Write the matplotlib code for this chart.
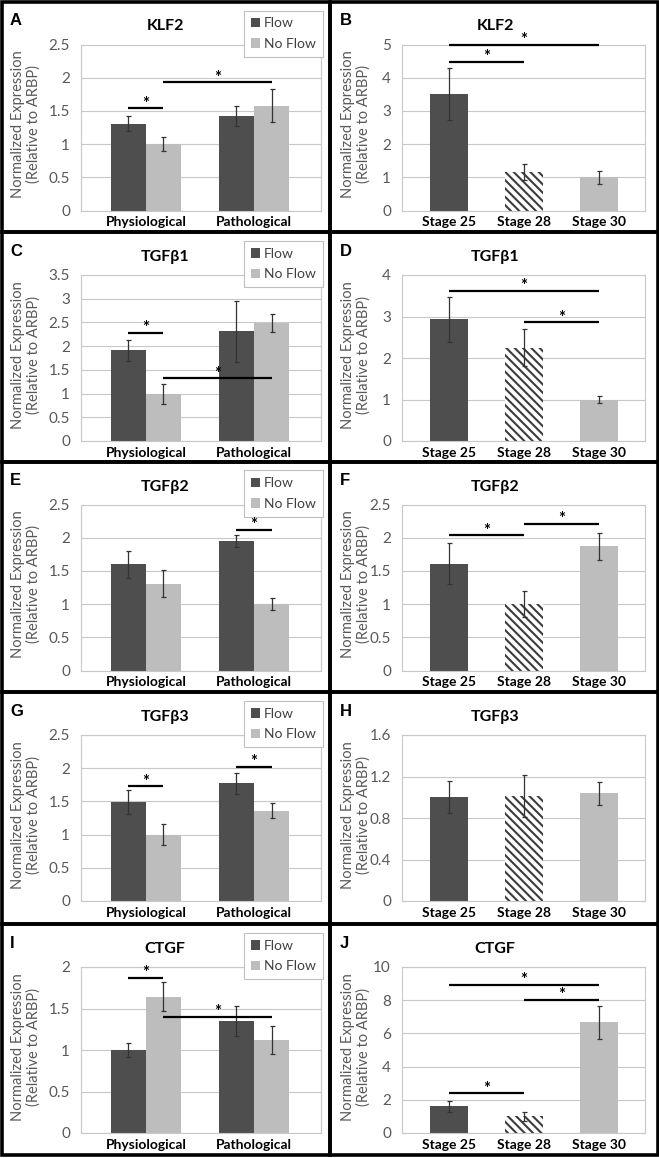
import matplotlib
matplotlib.use('Agg')
import matplotlib.pyplot as plt
from matplotlib.patches import Rectangle

plt.rcParams['font.family'] = ['Lato', 'DejaVu Sans']
plt.rcParams['hatch.linewidth'] = 1.5

# ---------------- data ----------------
conditions = ['Physiological', 'Pathological']
series_names = ['Flow', 'No Flow']
stages = ['Stage 25', 'Stage 28', 'Stage 30']

# KLF2
klf2_flow = [1.31, 1.42]
klf2_flow_err = [0.12, 0.15]
klf2_noflow = [1.00, 1.58]
klf2_noflow_err = [0.11, 0.25]
klf2_sig = [(0, 1, 1.54), (1, 3, 1.93)]
klf2_stage = [3.51, 1.15, 1.00]
klf2_stage_err = [0.79, 0.24, 0.20]
klf2_stage_sig = [(0, 1, 4.48), (0, 2, 5.0)]

# TGFb1
tgfb1_flow = [1.91, 2.31]
tgfb1_flow_err = [0.23, 0.65]
tgfb1_noflow = [1.00, 2.48]
tgfb1_noflow_err = [0.21, 0.19]
tgfb1_sig = [(0, 1, 2.28), (1, 3, 1.32)]
tgfb1_stage = [2.93, 2.25, 1.00]
tgfb1_stage_err = [0.54, 0.44, 0.09]
tgfb1_stage_sig = [(0, 2, 3.62), (1, 2, 2.86)]

# TGFb2
tgfb2_flow = [1.60, 1.95]
tgfb2_flow_err = [0.20, 0.09]
tgfb2_noflow = [1.31, 1.00]
tgfb2_noflow_err = [0.21, 0.085]
tgfb2_sig = [(2, 3, 2.12)]
tgfb2_stage = [1.61, 1.00, 1.87]
tgfb2_stage_err = [0.31, 0.19, 0.20]
tgfb2_stage_sig = [(0, 1, 2.04), (1, 2, 2.21)]

# TGFb3
tgfb3_flow = [1.49, 1.77]
tgfb3_flow_err = [0.18, 0.16]
tgfb3_noflow = [1.00, 1.36]
tgfb3_noflow_err = [0.16, 0.11]
tgfb3_sig = [(0, 1, 1.73), (2, 3, 2.02)]
tgfb3_stage = [1.00, 1.01, 1.04]
tgfb3_stage_err = [0.155, 0.20, 0.11]
tgfb3_stage_sig = []

# CTGF
ctgf_flow = [1.00, 1.35]
ctgf_flow_err = [0.085, 0.185]
ctgf_noflow = [1.64, 1.12]
ctgf_noflow_err = [0.175, 0.17]
ctgf_sig = [(0, 1, 1.87), (1, 3, 1.40)]
ctgf_stage = [1.60, 1.00, 6.66]
ctgf_stage_err = [0.34, 0.25, 1.01]
ctgf_stage_sig = [(0, 2, 8.94), (1, 2, 8.04), (0, 1, 2.40)]

genes = ['KLF2', 'TGF\u03b21', 'TGF\u03b22', 'TGF\u03b23', 'CTGF']
letters_left = ['A', 'C', 'E', 'G', 'I']
letters_right = ['B', 'D', 'F', 'H', 'J']
yticks_left = [[0, 0.5, 1, 1.5, 2, 2.5], [0, 0.5, 1, 1.5, 2, 2.5, 3, 3.5],
               [0, 0.5, 1, 1.5, 2, 2.5], [0, 0.5, 1, 1.5, 2, 2.5],
               [0, 0.5, 1, 1.5, 2]]
yticks_right = [[0, 1, 2, 3, 4, 5], [0, 1, 2, 3, 4], [0, 0.5, 1, 1.5, 2, 2.5],
                [0, 0.4, 0.8, 1.2, 1.6], [0, 2, 4, 6, 8, 10]]

flow_panels = [
    (klf2_flow, klf2_flow_err, klf2_noflow, klf2_noflow_err, klf2_sig),
    (tgfb1_flow, tgfb1_flow_err, tgfb1_noflow, tgfb1_noflow_err, tgfb1_sig),
    (tgfb2_flow, tgfb2_flow_err, tgfb2_noflow, tgfb2_noflow_err, tgfb2_sig),
    (tgfb3_flow, tgfb3_flow_err, tgfb3_noflow, tgfb3_noflow_err, tgfb3_sig),
    (ctgf_flow, ctgf_flow_err, ctgf_noflow, ctgf_noflow_err, ctgf_sig),
]
stage_panels = [
    (klf2_stage, klf2_stage_err, klf2_stage_sig),
    (tgfb1_stage, tgfb1_stage_err, tgfb1_stage_sig),
    (tgfb2_stage, tgfb2_stage_err, tgfb2_stage_sig),
    (tgfb3_stage, tgfb3_stage_err, tgfb3_stage_sig),
    (ctgf_stage, ctgf_stage_err, ctgf_stage_sig),
]

# ---------------- style ----------------
DARK = '#4e4e4e'
LIGHT = '#bdbdbd'
HATCH_C = '#3c3c3c'
GRID = '#c8c8c8'
GRAYTXT = '#595959'
ERR = '#333333'

W, H = 659, 1158
fig = plt.figure(figsize=(W / 100, H / 100), dpi=100)

row_tops = [1.5, 232, 461.5, 692, 924]
row_bottoms = [232, 461.5, 692, 924, 1155]
col_x = [(1.5, 329.5), (329.5, 657.5)]


def fx(x):
    return x / W


def fy(y):
    return 1 - y / H


def style_axes(ax, ticks):
    ax.set_axisbelow(True)
    ax.yaxis.grid(True, color=GRID, lw=0.8)
    for s in ax.spines.values():
        s.set_color(GRID)
        s.set_linewidth(0.8)
    ax.set_ylim(ticks[0], ticks[-1])
    ax.set_yticks(ticks)
    ax.set_yticklabels([f'{t:g}' for t in ticks])
    ax.tick_params(axis='y', length=0, pad=8, labelsize=11, labelcolor=GRAYTXT)
    ax.tick_params(axis='x', length=0, pad=4, labelsize=10)
    for lab in ax.get_xticklabels():
        lab.set_fontweight('bold')
    ax.set_ylabel('Normalized Expression\n(Relative to ARBP)', fontsize=10.5,
                  color=GRAYTXT, linespacing=1.15)


def sig_line(ax, x0, x1, y):
    ax.plot([x0, x1], [y, y], color='black', lw=1.6, clip_on=False,
            solid_capstyle='butt', zorder=5)
    ax.annotate('*', xy=((x0 + x1) / 2, y), xytext=(0, -2.5),
                textcoords='offset points', ha='center', va='bottom',
                fontsize=12, fontweight='bold', annotation_clip=False, zorder=6)


for r in range(5):
    top = row_tops[r]
    # ---------- left: flow / no flow ----------
    ax_l0, ax_l1 = 81, 321
    ax = fig.add_axes([fx(ax_l0), fy(top + 209), (ax_l1 - ax_l0) / W, 166 / H])
    flow, flow_e, noflow, noflow_e, sig = flow_panels[r]
    wbar = 0.325
    xs = list(range(len(conditions)))
    pos_flow = [x - wbar / 2 for x in xs]
    pos_noflow = [x + wbar / 2 for x in xs]
    b1 = ax.bar(pos_flow, flow, width=wbar, color=DARK, label=series_names[0], zorder=2)
    b2 = ax.bar(pos_noflow, noflow, width=wbar, color=LIGHT, label=series_names[1], zorder=2)
    ax.errorbar(pos_flow, flow, yerr=flow_e, fmt='none', ecolor=ERR,
                elinewidth=0.9, capsize=1.8, capthick=0.9, zorder=3)
    ax.errorbar(pos_noflow, noflow, yerr=noflow_e, fmt='none', ecolor=ERR,
                elinewidth=0.9, capsize=1.8, capthick=0.9, zorder=3)
    ax.set_xticks(xs)
    ax.set_xticklabels(conditions)
    ax.set_xlim(-0.60, 1.62)
    style_axes(ax, yticks_left[r])
    ax.yaxis.set_label_coords((41 - ax_l0) / (ax_l1 - ax_l0), 0.52)
    allpos = [pos_flow[0], pos_noflow[0], pos_flow[1], pos_noflow[1]]
    for i, j, y in sig:
        sig_line(ax, allpos[i], allpos[j], y)
    leg = ax.legend(handles=[b1, b2], loc='upper right',
                    bbox_to_anchor=(fx(323), fy(top + 9)),
                    bbox_transform=fig.transFigure, borderaxespad=0,
                    fontsize=10, handlelength=0.65, handleheight=0.65,
                    handletextpad=0.3, labelspacing=0.6, borderpad=0.5,
                    fancybox=False, framealpha=1, edgecolor='#bfbfbf',
                    labelcolor='#404040')
    leg.get_frame().set_linewidth(0.8)
    fig.text(fx(165), fy(top + 25), genes[r], ha='center', va='center',
             fontsize=11.5, fontweight='bold')
    fig.text(fx(10), fy(top + 19), letters_left[r], ha='left', va='center',
             fontsize=12, fontweight='bold', family='Liberation Sans')

    # ---------- right: stages ----------
    ax_r0, ax_r1 = 402, 645
    ax = fig.add_axes([fx(ax_r0), fy(top + 209), (ax_r1 - ax_r0) / W, 166 / H])
    vals, errs, sig = stage_panels[r]
    xs = list(range(len(stages)))
    wbar = 0.51
    bars = ax.bar(xs, vals, width=wbar, zorder=2)
    bars[0].set_facecolor(DARK)
    bars[0].set_linewidth(0)
    bars[1].set_facecolor('white')
    bars[1].set_edgecolor(HATCH_C)
    bars[1].set_linewidth(0)
    bars[1].set_hatch('\\\\\\\\')
    bars[2].set_facecolor(LIGHT)
    bars[2].set_linewidth(0)
    ax.errorbar(xs, vals, yerr=errs, fmt='none', ecolor=ERR,
                elinewidth=0.9, capsize=1.8, capthick=0.9, zorder=3)
    ax.set_xticks(xs)
    ax.set_xticklabels(stages)
    ax.set_xlim(-0.628, 2.62)
    style_axes(ax, yticks_right[r])
    ax.yaxis.set_label_coords((371 - ax_r0) / (ax_r1 - ax_r0), 0.52)
    for i, j, y in sig:
        sig_line(ax, xs[i], xs[j], y)
    fig.text(fx(495), fy(top + 25), genes[r], ha='center', va='center',
             fontsize=11.5, fontweight='bold')
    fig.text(fx(340), fy(top + 19), letters_right[r], ha='left', va='center',
             fontsize=12, fontweight='bold', family='Liberation Sans')

# ---------- panel borders ----------
for r in range(5):
    for (x0, x1) in col_x:
        y0, y1 = row_tops[r], row_bottoms[r]
        fig.add_artist(Rectangle((fx(x0), fy(y1)), (x1 - x0) / W, (y1 - y0) / H,
                                 transform=fig.transFigure, fill=False,
                                 lw=2.6, ec='black', zorder=10))

fig.savefig('out.png', dpi=100, facecolor='white')
